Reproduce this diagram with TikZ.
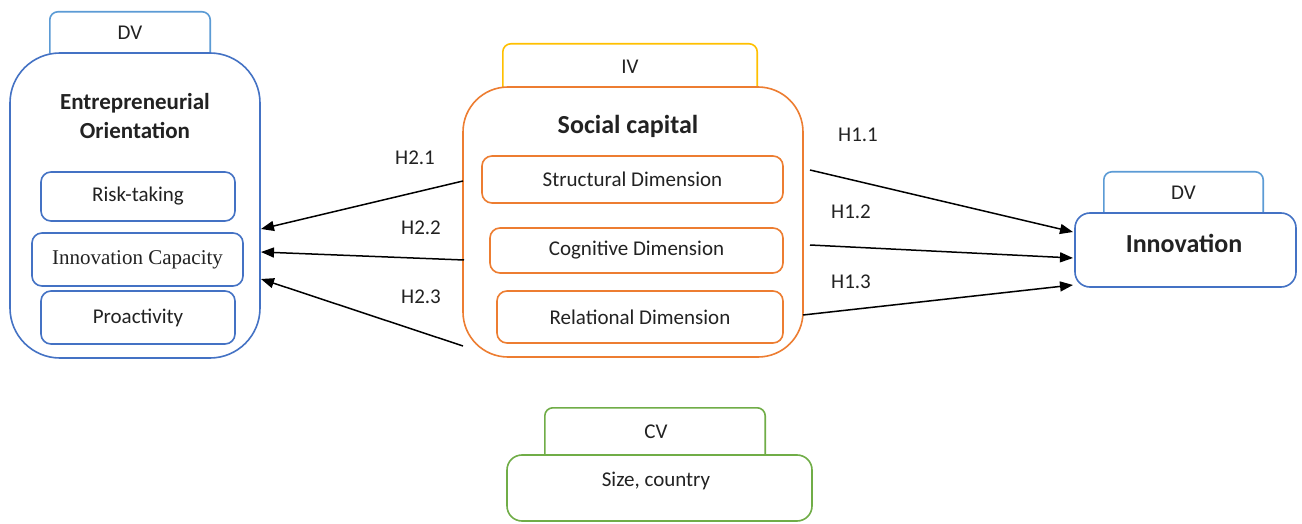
\documentclass[tikz,border=0pt]{standalone}
\usepackage{fontspec}
\setmainfont{Carlito}
\newfontfamily\serifx{Liberation Serif}
\usetikzlibrary{arrows.meta}
\definecolor{bluemain}{HTML}{4472C4}
\definecolor{bluetab}{HTML}{5B9BD5}
\definecolor{orangem}{HTML}{ED7D31}
\definecolor{yellowt}{HTML}{FFC000}
\definecolor{greenm}{HTML}{70AD47}
\definecolor{txt}{HTML}{222222}
\tikzset{
  every node/.style={text=txt},
  box/.style={draw, line width=1.6pt, rounded corners=#1, inner sep=0pt, fill=white},
  box/.default=10pt,
  tabbox/.style={inner sep=0pt},
  tabline/.style={line width=1.6pt, rounded corners=8pt},
  lbl/.style={font=\fontsize{21}{25}\selectfont},
  ttl/.style={font=\fontsize{23}{29}\selectfont\bfseries, align=center},
  conn/.style={line width=1.5pt, -{Triangle[length=13pt,width=10pt]}},
}
\begin{document}
\begin{tikzpicture}[x=1pt,y=-1pt]
\useasboundingbox (0,0) rectangle (1302,524);
\fill[white] (0,0) rectangle (1302,524);

% ---- left: Entrepreneurial Orientation
\node[tabbox, minimum width=160pt, minimum height=41pt] (dvL) at (130,32.5) {};
\draw[tabline, bluetab] (dvL.south west) -- (dvL.north west) -- (dvL.north east) -- (dvL.south east);
\node[lbl] (dvLt) at (130,33) {DV};
\node[box=50pt, draw=bluemain, minimum width=250pt, minimum height=305pt] (eo) at (135,205.5) {};
\node[ttl] (eot) at (135,116.5) {Entrepreneurial\\Orientation};
\node[box, draw=bluemain, minimum width=194pt, minimum height=49pt, lbl] (risk) at (138,196.5) {Risk-taking};
\node[box, draw=bluemain, minimum width=211pt, minimum height=53pt, font=\serifx\fontsize{21}{25}\selectfont] (icap) at (137.5,259.5) {Innovation Capacity};
\node[box, draw=bluemain, minimum width=194pt, minimum height=53pt, lbl] (proa) at (138,317.5) {Proactivity};

% ---- centre: Social capital
\node[tabbox, minimum width=254pt, minimum height=43pt] (iv) at (630,65.5) {};
\draw[tabline, yellowt] (iv.south west) -- (iv.north west) -- (iv.north east) -- (iv.south east);
\node[lbl] (ivt) at (630,67) {IV};
\node[box=45pt, draw=orangem, minimum width=340pt, minimum height=270pt] (sc) at (633,222) {};
\node[font=\fontsize{26}{30}\selectfont\bfseries] (sct) at (628,126) {Social capital};
\node[box, draw=orangem, minimum width=301pt, minimum height=47pt, lbl] (str) at (632.5,179.5) {Structural Dimension};
\node[box, draw=orangem, minimum width=293pt, minimum height=45pt, lbl] (cog) at (636.5,250.5) {Cognitive Dimension};
\node[box, draw=orangem, minimum width=286pt, minimum height=52pt, lbl] (rel) at (640,317) {Relational Dimension};

% ---- right: Innovation
\node[tabbox, minimum width=159pt, minimum height=41pt] (dvR) at (1183.5,192.5) {};
\draw[tabline, bluetab] (dvR.south west) -- (dvR.north west) -- (dvR.north east) -- (dvR.south east);
\node[lbl] (dvRt) at (1183.5,193) {DV};
\node[box=15pt, draw=bluemain, minimum width=221pt, minimum height=74pt] (inn) at (1185.5,250) {};
\node[font=\fontsize{26}{30}\selectfont\bfseries] (innt) at (1184,243) {Innovation};

% ---- bottom: CV
\node[tabbox, minimum width=220pt, minimum height=47pt] (cv) at (655,431.5) {};
\draw[tabline, greenm] (cv.south west) -- (cv.north west) -- (cv.north east) -- (cv.south east);
\node[lbl] (cvt) at (656,432) {CV};
\node[box=15pt, draw=greenm, minimum width=305pt, minimum height=66pt] (cvb) at (659.5,488) {};
\node[lbl] (cvbt) at (656,481) {Size, country};

% ---- connector end points
\coordinate (s21) at (463,181);
\coordinate (e21) at (261,229);
\coordinate (s22) at (464,260);
\coordinate (e22) at (261,252);
\coordinate (s23) at (463,346);
\coordinate (e23) at (261,279);
\coordinate (s11) at (810,170);
\coordinate (e11) at (1073,232);
\coordinate (s12) at (810,245);
\coordinate (e12) at (1073,258);
\coordinate (s13) at (803,315);
\coordinate (e13) at (1073,285);

\draw[conn] (s21) -- (e21);
\draw[conn] (s22) -- (e22);
\draw[conn] (s23) -- (e23);
\draw[conn] (s11) -- (e11);
\draw[conn] (s12) -- (e12);
\draw[conn] (s13) -- (e13);

\node[lbl] (h21) at (415,158) {H2.1};
\node[lbl] (h22) at (421,228) {H2.2};
\node[lbl] (h23) at (421,297) {H2.3};
\node[lbl] (h11) at (858,135) {H1.1};
\node[lbl] (h12) at (851,212) {H1.2};
\node[lbl] (h13) at (851,282) {H1.3};
\end{tikzpicture}
\end{document}
